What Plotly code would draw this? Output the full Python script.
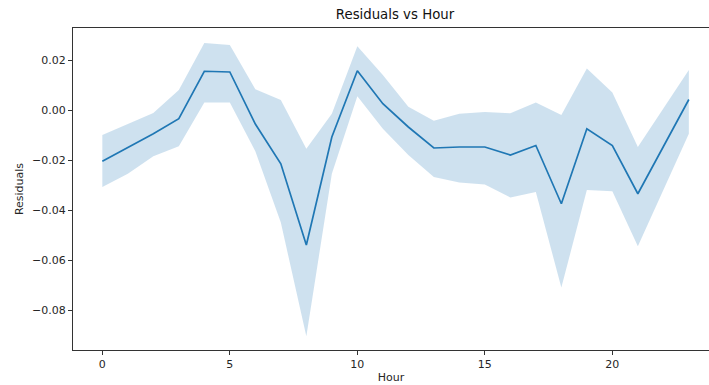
import plotly.graph_objects as go

hours = list(range(24))
mean_resid = [-0.0205, -0.0150, -0.0095, -0.0035, 0.0155, 0.0152, -0.0056, -0.0215,
              -0.0540, -0.0108, 0.0157, 0.0025, -0.0068, -0.0152, -0.0148, -0.0148,
              -0.0180, -0.0142, -0.0375, -0.0075, -0.0142, -0.0335, -0.0148, 0.0042]
upper_ci = [-0.0100, -0.0055, -0.0012, 0.0080, 0.0268, 0.0260, 0.0083, 0.0040,
            -0.0155, -0.0015, 0.0255, 0.0140, 0.0013, -0.0043, -0.0015, -0.0008,
            -0.0013, 0.0030, -0.0020, 0.0166, 0.0070, -0.0148, 0.0005, 0.0160]
lower_ci = [-0.0308, -0.0255, -0.0185, -0.0145, 0.0030, 0.0030, -0.0165, -0.0450,
            -0.0905, -0.0255, 0.0055, -0.0075, -0.0180, -0.0268, -0.0290, -0.0298,
            -0.0350, -0.0328, -0.0710, -0.0320, -0.0325, -0.0545, -0.0320, -0.0095]
x_ticks = [0, 5, 10, 15, 20]
y_ticks = [-0.08, -0.06, -0.04, -0.02, 0.00, 0.02]

C0 = "#1f77b4"
BAND = "rgba(31,119,180,0.22)"
TXT = "#262626"
FONT = "DejaVu Sans"

fig = go.Figure()
fig.add_trace(go.Scatter(x=hours, y=lower_ci, mode="lines", line=dict(width=0),
                         showlegend=False, hoverinfo="skip"))
fig.add_trace(go.Scatter(x=hours, y=upper_ci, mode="lines", line=dict(width=0),
                         fill="tonexty", fillcolor=BAND, showlegend=False, hoverinfo="skip"))
fig.add_trace(go.Scatter(x=hours, y=mean_resid, mode="lines",
                         line=dict(color=C0, width=1.7), showlegend=False))

fig.update_layout(
    width=709, height=385,
    margin=dict(l=73, r=0, t=28, b=35),
    paper_bgcolor="white", plot_bgcolor="white",
    font=dict(family=FONT, size=11, color=TXT),
    title=dict(text="Residuals vs Hour", x=395 / 709, xref="container", y=0.962,
               yref="container", xanchor="center", yanchor="middle",
               font=dict(family=FONT, size=13.3, color="#111111")),
)
fig.update_xaxes(
    range=[-1.15, 23.79], tickvals=x_ticks, ticktext=[str(v) for v in x_ticks],
    showgrid=False, zeroline=False, showline=True, linecolor="#333333", linewidth=1.2,
    mirror=True, ticks="outside", ticklen=4, tickcolor="#333333", tickwidth=1,
    tickfont=dict(family=FONT, size=11, color=TXT),
    title=dict(text="Hour", standoff=3, font=dict(family=FONT, size=11, color=TXT)),
)
fig.update_yaxes(
    range=[-0.096, 0.0328], tickvals=y_ticks, tickformat=".2f",
    showgrid=False, zeroline=False, showline=True, linecolor="#333333", linewidth=1.2,
    ticks="outside", ticklen=4, tickcolor="#333333", tickwidth=1,
    tickfont=dict(family=FONT, size=11, color=TXT),
    title=dict(text="Residuals", standoff=6, font=dict(family=FONT, size=11, color=TXT)),
)

fig.write_html("out.html")
